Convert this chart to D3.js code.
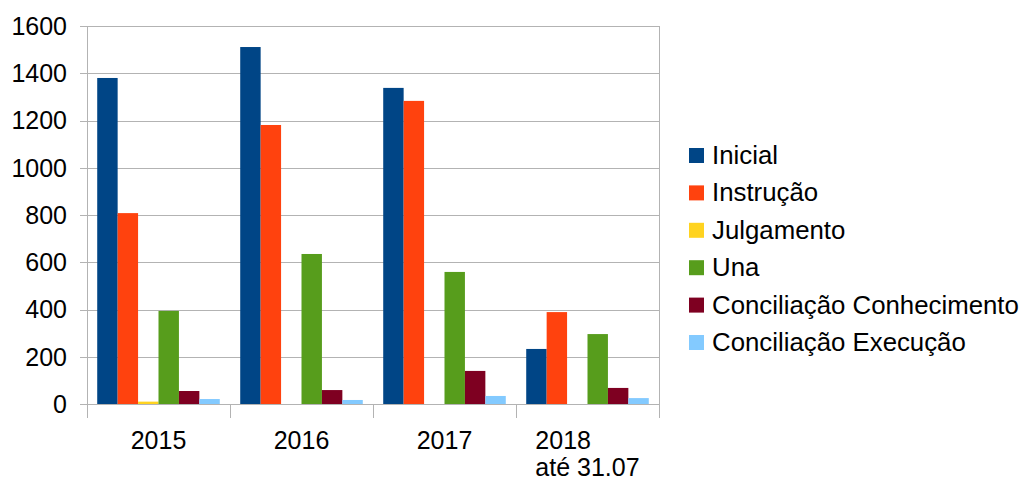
<!DOCTYPE html>
<html><head><meta charset="utf-8">
<script src="https://cdn.jsdelivr.net/npm/d3@7"></script>
<style>body{margin:0;background:#fff}svg{display:block}text{font-family:"Liberation Sans",Arial,sans-serif;fill:#000}</style>
</head><body>
<svg id="c" width="1023" height="481"></svg>
<script>
const categories = [["2015"],["2016"],["2017"],["2018","até 31.07"]];
const seriesNames = ["Inicial","Instrução","Julgamento","Una","Conciliação Conhecimento","Conciliação Execução"];
const inicial = [1380, 1511, 1338, 233];
const instrucao = [808, 1181, 1283, 389];
const julgamento = [10, 0, 0, 0];
const una = [394, 635, 559, 296];
const concConhecimento = [55, 59, 140, 68];
const concExecucao = [21, 17, 34, 25];
const yTicks = [0,200,400,600,800,1000,1200,1400,1600];
const colors = ["#004586","#ff420e","#ffd320","#579d1c","#7e0021","#83caff"];
const series = [inicial, instrucao, julgamento, una, concConhecimento, concExecucao];

const svg = d3.select("#c");
const L=87,R=659,T=26,B=404;
const x0 = d3.scaleBand().domain(d3.range(categories.length)).range([L,R]).paddingInner(0).paddingOuter(0);
const y = d3.scaleLinear().domain([0,1600]).range([B,T]);
const bw = x0.bandwidth()/7;
const x1 = d3.scaleBand().domain(d3.range(series.length)).range([bw/2, x0.bandwidth()-bw/2]).padding(0);

// gridlines
svg.append("g").selectAll("line").data(yTicks).join("line")
  .attr("x1",L-7).attr("x2",R).attr("y1",d=>Math.round(y(d))+0.5).attr("y2",d=>Math.round(y(d))+0.5)
  .attr("stroke","#b3b3b3").attr("stroke-width",1);
// right border
svg.append("line").attr("x1",R+0.5).attr("x2",R+0.5).attr("y1",T).attr("y2",B).attr("stroke","#b3b3b3");

// bars
series.forEach((s,i)=>{
  svg.append("g").selectAll("rect").data(s).join("rect")
    .attr("x",(d,j)=>x0(j)+x1(i)).attr("width",x1.bandwidth())
    .attr("y",d=>y(d)).attr("height",d=>B-y(d)).attr("fill",colors[i]);
});

// axes lines
svg.append("line").attr("x1",L+0.5).attr("x2",L+0.5).attr("y1",T).attr("y2",B+14).attr("stroke","#b3b3b3");
svg.append("line").attr("x1",L-7).attr("x2",R).attr("y1",B+0.5).attr("y2",B+0.5).attr("stroke","#b3b3b3");
svg.append("g").selectAll("line").data(d3.range(categories.length+1)).join("line")
  .attr("x1",d=>Math.round(L+d*x0.bandwidth())+0.5).attr("x2",d=>Math.round(L+d*x0.bandwidth())+0.5)
  .attr("y1",B).attr("y2",B+14).attr("stroke","#b3b3b3");

// y labels
svg.append("g").selectAll("text").data(yTicks).join("text")
  .attr("x",67).attr("y",d=>y(d)).attr("dy","0.35em").attr("text-anchor","end")
  .style("font-size","25px").text(d=>d);

// x labels
categories.forEach((lines,j)=>{
  const cx = x0(j)+x0.bandwidth()/2;
  const g = svg.append("g");
  const t = g.append("text").style("font-size","25px");
  lines.forEach((ln,k)=>t.append("tspan").attr("x",0).attr("y",449+k*27).text(ln));
  const w = t.node().getBBox().width;
  g.attr("transform",`translate(${cx-w/2},0)`);
});

// legend
const lg = svg.append("g");
seriesNames.forEach((n,i)=>{
  const yy = 155+i*37.4;
  lg.append("rect").attr("x",689).attr("y",yy-7).attr("width",15).attr("height",15).attr("fill",colors[i]);
  lg.append("text").attr("x",712).attr("y",yy).attr("dy","0.35em").style("font-size","25.8px").text(n);
});
</script>
</body></html>
